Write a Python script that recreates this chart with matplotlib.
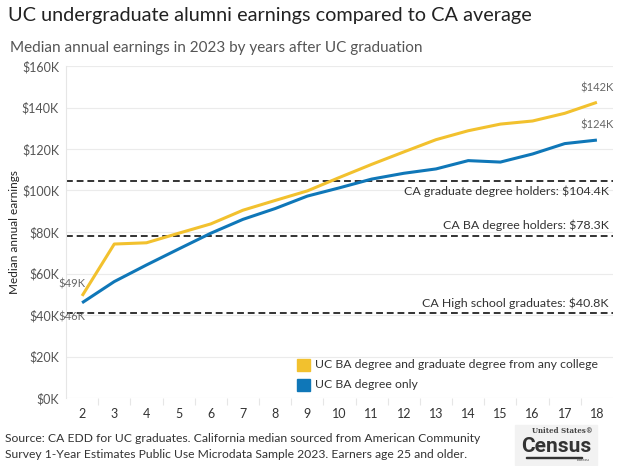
import matplotlib
matplotlib.use("Agg")
import matplotlib.pyplot as plt
from matplotlib.patches import Rectangle
from matplotlib.ticker import FuncFormatter, MultipleLocator

plt.rcParams["font.family"] = ["Lato", "DejaVu Sans"]

years = list(range(2, 19))
uc_ba_grad = [49.2, 74.2, 74.8, 79.4, 83.9, 90.5, 95.2, 99.8, 106.3, 112.6,
              118.6, 124.5, 128.8, 132.0, 133.5, 137.2, 142.5]
uc_ba_only = [45.9, 56.1, 64.1, 71.8, 79.4, 86.1, 91.3, 97.3, 101.3, 105.5,
              108.3, 110.4, 114.4, 113.7, 117.6, 122.6, 124.3]
series_names = ["UC BA degree and graduate degree from any college", "UC BA degree only"]
ref_values = [104.4, 78.3, 40.8]
ref_labels = ["CA graduate degree holders: $104.4K", "CA BA degree holders: $78.3K",
              "CA High school graduates: $40.8K"]

yellow = "#F2C12E"
blue = "#0F77B8"

fig = plt.figure(figsize=(6.19, 4.66), dpi=100)
ax = fig.add_axes([66 / 619, 1 - 398 / 466, 547 / 619, 332 / 466])

ax.set_xlim(1.5, 18.5)
ax.set_ylim(0, 160)
ax.yaxis.set_major_locator(MultipleLocator(20))
ax.xaxis.set_major_locator(MultipleLocator(1))
ax.set_xticks([y + 0.5 for y in years[:-1]], minor=True)
ax.yaxis.set_major_formatter(FuncFormatter(lambda v, p: f"${v:.0f}K"))
ax.grid(axis="y", color="#EBEBEB", lw=0.8)
ax.set_axisbelow(True)
for s in ["top", "right", "bottom"]:
    ax.spines[s].set_visible(False)
ax.spines["left"].set_color("#E6E6E6")
ax.tick_params(axis="y", length=0, labelsize=9, colors="#555555", pad=5)
ax.tick_params(axis="x", which="major", length=0, labelsize=9, colors="#333333", pad=7)
ax.tick_params(axis="x", which="minor", length=5, color="#E6E6E6", width=0.8)
ax.set_ylabel("Median annual earnings", fontsize=8.5, color="#222222", labelpad=1)

# reference lines
for v in ref_values:
    ax.axhline(v, color="#333333", lw=1.4, ls=(0, (3.5, 2)), zorder=2)
for v, lab, off in zip(ref_values, ref_labels, [-3, 3, 3]):
    ax.annotate(lab, (1, v), xycoords=("axes fraction", "data"), xytext=(-3, off),
                textcoords="offset points", ha="right",
                va="top" if off < 0 else "bottom", fontsize=8.9, color="#333333")

ax.plot(years, uc_ba_grad, color=yellow, lw=2.2, zorder=3, solid_capstyle="butt")
ax.plot(years, uc_ba_only, color=blue, lw=2.2, zorder=3, solid_capstyle="butt")

# end labels
lab_style = dict(fontsize=8, color="#666666", textcoords="offset points")
ax.annotate(f"${uc_ba_grad[0]:.0f}K", (years[0], uc_ba_grad[0]), xytext=(-17, 6), **lab_style)
ax.annotate(f"${uc_ba_only[0]:.0f}K", (years[0], uc_ba_only[0]), xytext=(-17, -13), **lab_style)
ax.annotate(f"${uc_ba_grad[-1]:.0f}K", (years[-1], uc_ba_grad[-1]), xytext=(-12, 8), **lab_style)
ax.annotate(f"${uc_ba_only[-1]:.0f}K", (years[-1], uc_ba_only[-1]), xytext=(-12, 8), **lab_style)

# legend
for i, (name, c) in enumerate(zip(series_names, [yellow, blue])):
    yy = 1 - (365 + i * 20) / 466
    fig.patches.append(Rectangle((297 / 619, yy - 6 / 466), 13 / 619, 12 / 466,
                                 transform=fig.transFigure, color=c))
    fig.text(315 / 619, yy, name, fontsize=8.8, color="#333333", va="center")

fig.text(8 / 619, 1 - 15 / 466, "UC undergraduate alumni earnings compared to CA average",
         fontsize=14.3, color="#222222", va="center")
fig.text(10 / 619, 1 - 48 / 466, "Median annual earnings in 2023 by years after UC graduation",
         fontsize=11, color="#555555", va="center")
fig.text(5 / 619, 1 - 438 / 466,
         "Source: CA EDD for UC graduates. California median sourced from American Community",
         fontsize=8.7, color="#333333", va="center")
fig.text(5 / 619, 1 - 455 / 466,
         "Survey 1-Year Estimates Public Use Microdata Sample 2023. Earners age 25 and older.",
         fontsize=8.7, color="#333333", va="center")

# Census logo (text)
fig.patches.append(Rectangle((515 / 619, 1 - 465 / 466), 82 / 619, 40 / 466,
                             transform=fig.transFigure, color="#F2F2F2"))
fig.text(562 / 619, 1 - 431 / 466, "United States\u00ae", fontsize=5, ha="center",
         va="center", color="#444444", family="DejaVu Serif", weight="bold")
fig.text(556 / 619, 1 - 446 / 466, "Census", fontsize=15, ha="center", va="center",
         color="#333333", weight="bold", family=["Roboto", "DejaVu Sans"])
fig.patches.append(Rectangle((526 / 619, 1 - 458 / 466), 56 / 619, 1.5 / 466,
                             transform=fig.transFigure, color="#333333"))
fig.text(583 / 619, 1 - 460 / 466, "Bureau", fontsize=3, ha="center", va="center",
         color="#444444")

fig.savefig("out.png", dpi=100)
